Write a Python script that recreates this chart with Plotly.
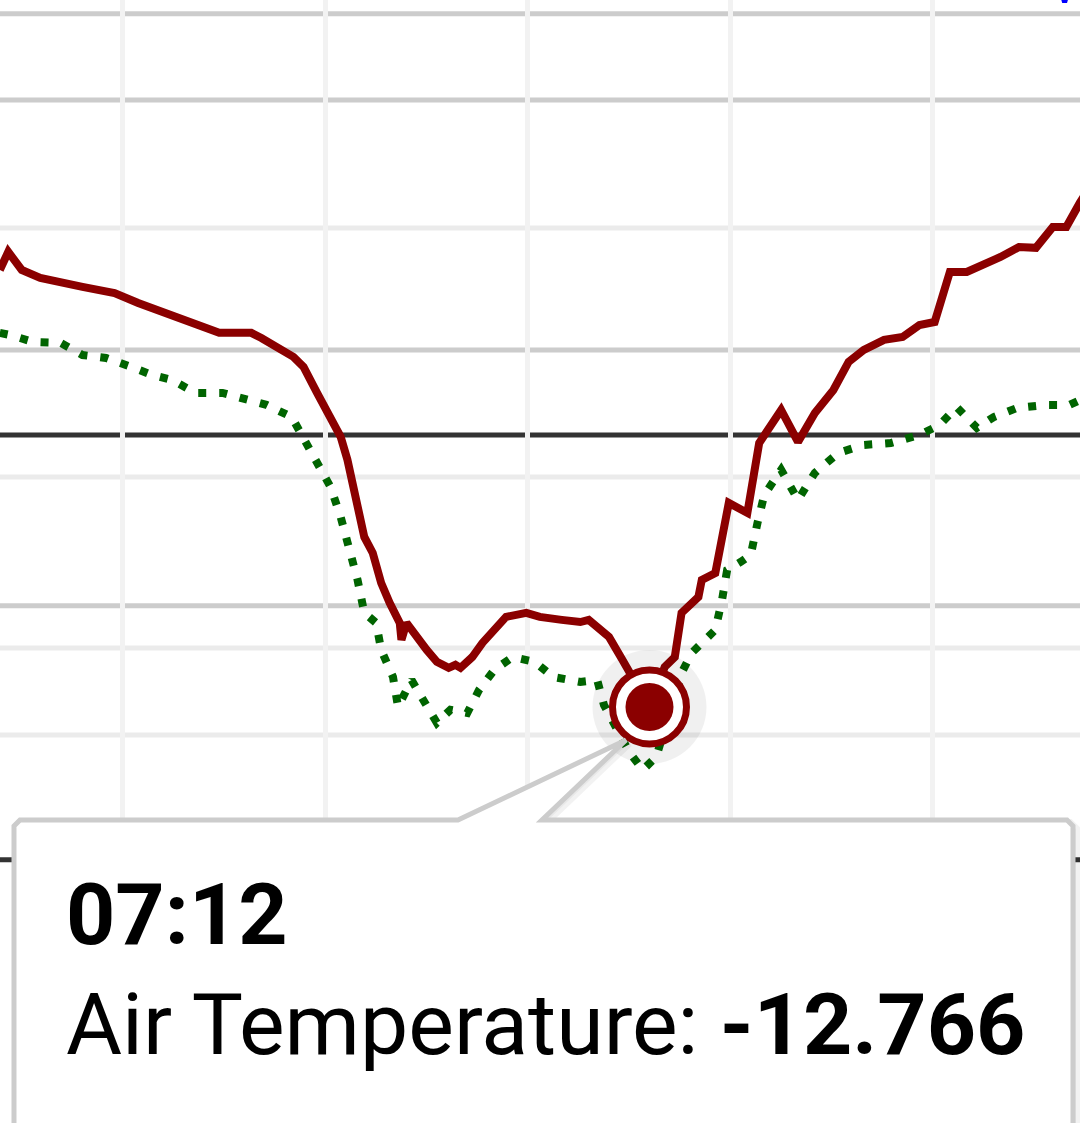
import plotly.graph_objects as go

day = "2024-01-01 "

# Air temperature (deg C)
air_times = ["00:47", "00:52", "01:00", "01:11", "01:36", "01:55", "02:09", "02:25", "02:41", "02:57",
             "03:16", "03:22", "03:41", "03:47", "03:55", "04:03", "04:09", "04:13", "04:19", "04:23",
             "04:28", "04:33", "04:38", "04:44", "04:45", "04:48", "05:00", "05:06", "05:13", "05:17",
             "05:20", "05:27", "05:33", "05:41", "05:47", "05:59", "06:07", "06:20", "06:31", "06:36",
             "06:48", "06:56", "07:12", "07:21", "07:27", "07:31", "07:35", "07:41", "07:43", "07:51",
             "07:59", "08:10", "08:17", "08:30", "08:40", "08:50", "09:01", "09:10", "09:19", "09:31",
             "09:42", "09:52", "10:01", "10:10", "10:20", "10:30", "10:40", "10:51", "11:01", "11:11",
             "11:19", "11:27", "11:35"]
air_temp = [7.74, 8.59, 7.74, 7.37, 6.95, 6.66, 6.19, 5.72, 5.16, 4.79,
            4.79, 4.55, 3.66, 3.19, 1.97, 0.84, -0.09, -1.17, -3.38, -4.79,
            -5.54, -6.95, -7.88, -8.82, -9.62, -8.82, -10.09, -10.65, -10.93, -10.79,
            -10.93, -10.42, -9.76, -9.01, -8.54, -8.35, -8.54, -8.68, -8.78, -8.68,
            -9.48, -10.56, -12.766, -10.89, -10.42, -8.35, -8.07, -7.60, -6.80, -6.48,
            -3.19, -3.66, -0.38, 1.17, -0.33, 1.03, 2.11, 3.43, 3.99, 4.46,
            4.60, 5.16, 5.30, 7.65, 7.65, 7.98, 8.35, 8.82, 8.78, 9.76,
            9.76, 10.89, 11.9]

# Dew point (deg C)
dew_times = ["00:47", "00:53", "01:07", "01:23", "01:36", "01:50", "02:05", "02:17", "02:29", "02:43",
             "02:59", "03:10", "03:25", "03:40", "03:48", "03:56", "04:03", "04:09", "04:14", "04:19",
             "04:23", "04:30", "04:33", "04:40", "04:43", "04:51", "04:59", "05:06", "05:14", "05:24",
             "05:31", "05:40", "05:51", "06:04", "06:15", "06:31", "06:41", "06:45", "07:00", "07:08",
             "07:16", "07:31", "07:37", "07:45", "07:51", "07:55", "07:58", "08:06", "08:12", "08:16",
             "08:20", "08:30", "08:40", "08:50", "09:04", "09:19", "09:35", "09:52", "10:04", "10:14",
             "10:26", "10:36", "10:50", "11:07", "11:21", "11:30"]
dew_temp = [4.79, 4.69, 4.36, 4.32, 3.75, 3.61, 3.19, 2.82, 2.58, 1.97,
            1.97, 1.74, 1.41, 0.84, -0.33, -1.50, -2.44, -3.85, -5.26, -6.80,
            -8.35, -8.82, -10.09, -11.36, -12.76, -11.50, -12.58, -13.51, -12.90, -13.05,
            -11.97, -11.03, -10.42, -10.65, -11.36, -11.59, -11.50, -12.67, -14.88, -15.72,
            -15.11, -11.17, -10.23, -9.62, -9.15, -7.74, -6.34, -5.96, -5.63, -4.13,
            -2.82, -1.64, -3.05, -1.78, -0.84, -0.47, -0.38, 0.00, 0.47, 1.31,
            0.33, 0.84, 1.27, 1.41, 1.41, 1.74]

# third series, only its tip is visible at the top edge
wind_times = ["11:14", "11:18", "11:22"]
wind_vals = [21.4, 20.3, 21.4]

hover_time = "07:12"
hover_label = "Air Temperature"

# horizontal guide lines (deg C)
dark_grid = [-8.02, 3.99, 15.72, 19.76]
light_grid = [-14.08, -10.0, -1.97, 9.71]
freezing = 0
axis_floor = -19.94

W, H = 1080, 1123


def px(x, y):
    return x / W, 1 - y / H


fig = go.Figure()

fig.add_trace(go.Scatter(
    x=[day + t for t in dew_times], y=dew_temp, mode="lines",
    line=dict(color="#006400", width=8, dash="8px,13px"),
    showlegend=False, hoverinfo="skip"))

fig.add_trace(go.Scatter(
    x=[day + t for t in air_times], y=air_temp, mode="lines",
    line=dict(color="#8b0000", width=8),
    showlegend=False, hoverinfo="skip"))

fig.add_trace(go.Scatter(
    x=[day + t for t in wind_times], y=wind_vals, mode="lines",
    line=dict(color="#0000ff", width=5),
    showlegend=False, hoverinfo="skip"))

# hovered point: halo, ring, dot
i = air_times.index(hover_time)
hx, hy = [day + air_times[i]], [air_temp[i]]
fig.add_trace(go.Scatter(x=hx, y=hy, mode="markers",
                         marker=dict(size=114, color="rgba(0,0,0,0.06)", line=dict(width=0)),
                         showlegend=False, hoverinfo="skip"))
fig.add_trace(go.Scatter(x=hx, y=hy, mode="markers",
                         marker=dict(size=74, color="white", line=dict(width=7, color="#8b0000")),
                         showlegend=False, hoverinfo="skip"))
fig.add_trace(go.Scatter(x=hx, y=hy, mode="markers",
                         marker=dict(size=48, color="#8b0000", line=dict(width=0)),
                         showlegend=False, hoverinfo="skip"))

shapes = []
for v in light_grid:
    shapes.append(dict(type="line", xref="paper", yref="y", x0=0, x1=1, y0=v, y1=v,
                       line=dict(color="#ebebeb", width=5), layer="between"))
for v in dark_grid:
    shapes.append(dict(type="line", xref="paper", yref="y", x0=0, x1=1, y0=v, y1=v,
                       line=dict(color="#cccccc", width=5), layer="between"))
shapes.append(dict(type="line", xref="paper", yref="y", x0=0, x1=1, y0=freezing, y1=freezing,
                   line=dict(color="#333333", width=5), layer="between"))
shapes.append(dict(type="line", xref="paper", yref="y", x0=0, x1=1, y0=axis_floor, y1=axis_floor,
                   line=dict(color="#333333", width=5), layer="between"))

# tooltip box with pointer
box = [(14, 826), (20, 820), (458, 820), (626, 740), (542, 820), (1067, 820), (1073, 826),
       (1073, 1135), (14, 1135)]
pts = [px(x, y) for x, y in box]
path = "M " + " L ".join(f"{a:.5f},{b:.5f}" for a, b in pts) + " Z"
shadow = [px(x + 3, y + 3) for x, y in box]
spath = "M " + " L ".join(f"{a:.5f},{b:.5f}" for a, b in shadow) + " Z"
shapes.append(dict(type="path", xref="paper", yref="paper", path=spath,
                   fillcolor="rgba(0,0,0,0.04)", line=dict(color="rgba(0,0,0,0.05)", width=8),
                   layer="above"))
shapes.append(dict(type="path", xref="paper", yref="paper", path=path,
                   fillcolor="white", line=dict(color="#cccccc", width=5), layer="above"))

ax, ay = px(64, 914)
bx, by = px(64, 1024)
annotations = [
    dict(xref="paper", yref="paper", x=ax, y=ay, xanchor="left", yanchor="middle",
         text="<b>" + hover_time + "</b>", showarrow=False,
         font=dict(family="Roboto", size=86, color="black")),
    dict(xref="paper", yref="paper", x=bx, y=by, xanchor="left", yanchor="middle",
         text=hover_label + ": <b>" + f"{air_temp[i]:.3f}" + "</b>", showarrow=False,
         font=dict(family="Roboto", size=86, color="black")),
]

fig.update_layout(
    width=W, height=H,
    margin=dict(l=0, r=0, t=0, b=0),
    paper_bgcolor="white", plot_bgcolor="white",
    hovermode=False,
    shapes=shapes,
    annotations=annotations,
    xaxis=dict(type="date", range=[day + "00:47:07", day + "11:27:07"],
               showgrid=True, gridcolor="#f2f2f2", gridwidth=5,
               tick0=day + "00:00", dtick=7200000,
               showticklabels=False, zeroline=False, showline=False, fixedrange=True),
    yaxis=dict(range=[-32.29, 20.41], showgrid=False, zeroline=False,
               showticklabels=False, showline=False, fixedrange=True),
)

fig.write_html("out.html", config={"displayModeBar": False},
               post_script="document.body.style.margin='0';")
